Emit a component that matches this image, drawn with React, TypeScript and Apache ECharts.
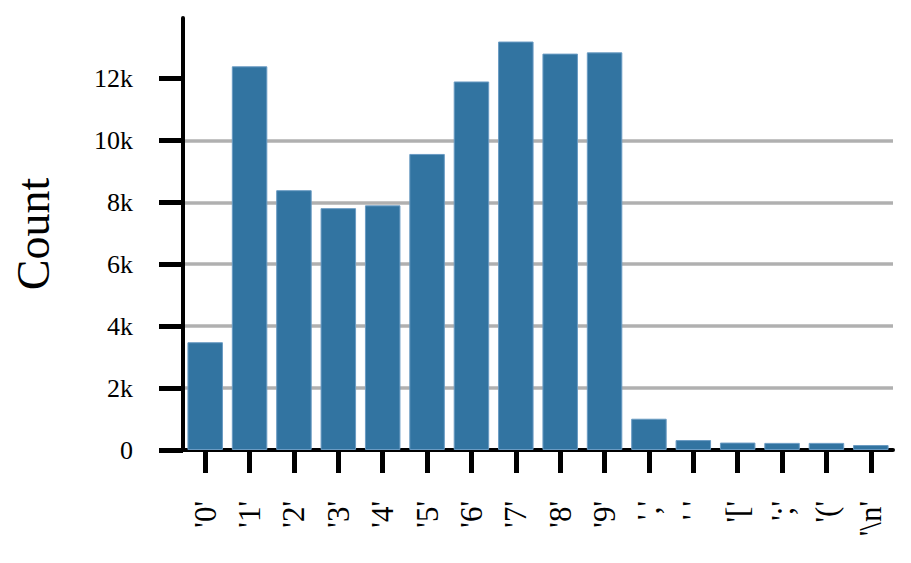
import React, { useEffect, useRef } from "react";
import * as echarts from "echarts";

const categories = ["'0'", "'1'", "'2'", "'3'", "'4'", "'5'", "'6'", "'7'", "'8'", "'9'", "','", "' '", "'['", "';'", "'('", "'\\n'"];
const counts = [3480, 12390, 8390, 7810, 7900, 9560, 11900, 13190, 12800, 12840, 1010, 320, 240, 230, 230, 160];
const yTicks = [0, 2000, 4000, 6000, 8000, 10000, 12000];
const yMax = 13950;

export default function App() {
  const ref = useRef<HTMLDivElement>(null);
  useEffect(() => {
    if (!ref.current) return;
    const chart = echarts.init(ref.current, null, { renderer: "svg" });
    const font = "'Liberation Serif', 'Times New Roman', serif";
    chart.setOption({
      animation: false,
      backgroundColor: "#ffffff",
      grid: { left: 183, right: 18, top: 18, bottom: 113, containLabel: false },
      xAxis: {
        type: "category",
        data: categories,
        boundaryGap: true,
        axisLine: { show: true, lineStyle: { color: "#000", width: 4 } },
        axisTick: { show: true, alignWithLabel: true, length: 23, lineStyle: { color: "#000", width: 5 } },
        axisLabel: { rotate: 90, margin: 51, color: "#000", fontFamily: font, fontSize: 31, interval: 0 },
        splitLine: { show: false },
      },
      yAxis: {
        type: "value",
        min: 0,
        max: yMax,
        interval: 2000,
        name: "Count",
        nameLocation: "middle",
        nameGap: 127,
        nameRotate: 90,
        nameTextStyle: { color: "#000", fontFamily: font, fontSize: 46 },
        axisLine: { show: true, onZero: false, lineStyle: { color: "#000", width: 4 } },
        axisTick: { show: true, length: 24, customValues: yTicks, lineStyle: { color: "#000", width: 5 } },
        axisLabel: {
          customValues: yTicks,
          margin: 50,
          color: "#000",
          fontFamily: font,
          fontSize: 26,
          formatter: (v: number) => (v === 0 ? "0" : v / 1000 + "k"),
        },
        splitLine: { show: true, showMaxLine: false, lineStyle: { color: "#b0b0b0", width: 3.5 } },
      },
      series: [
        {
          type: "bar",
          data: counts,
          barWidth: "80%",
          itemStyle: { color: "#3274a1", borderColor: "#6a9bc3", borderWidth: 1 },
          z: 3,
        },
      ],
    });
    return () => chart.dispose();
  }, []);
  return <div ref={ref} style={{ width: 911, height: 563, position: "absolute", left: 0, top: 0 }} />;
}
